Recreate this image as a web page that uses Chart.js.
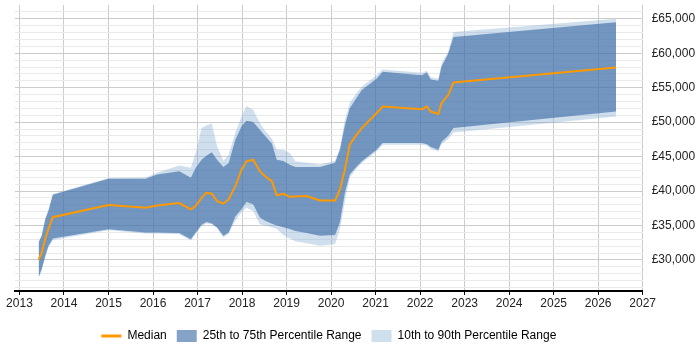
<!DOCTYPE html>
<html>
<head>
<meta charset="utf-8">
<script src="https://cdn.jsdelivr.net/npm/chart.js@4"></script>
<style>
  body { margin: 0; background: #fff; }
</style>
</head>
<body>
<canvas id="salary_chart" width="700" height="350"></canvas>
<script>
// years (decimal) and percentile values
var years = [2013.43, 2013.5, 2013.58, 2013.65, 2013.75, 2015.0, 2015.84, 2016.09, 2016.59, 2016.85,
  2016.96, 2017.09, 2017.2, 2017.32, 2017.44, 2017.58, 2017.7, 2017.85, 2017.99, 2018.1,
  2018.25, 2018.4, 2018.52, 2018.67, 2018.78, 2018.93, 2019.07, 2019.2, 2019.45, 2019.75,
  2020.09, 2020.2, 2020.31, 2020.42, 2020.54, 2020.69, 2021.02, 2021.16, 2022.04, 2022.15,
  2022.24, 2022.41, 2022.48, 2022.63, 2022.75, 2026.4]
var median = [30000, 31000, 33100, 34450, 36200, 37960, 37580, 37900, 38250, 37340,
  37820, 39000, 39750, 39600, 38540, 38160, 38780, 40700, 43110, 44310,
  44550, 42870, 42150, 41420, 39360, 39600, 39170, 39200, 39260, 38640,
  38640, 40220, 43110, 46720, 47900, 49130, 51290, 52250, 51870, 52250,
  51530, 51190, 52730, 53930, 55760, 57930]
var p25 = [27480, 28680, 30600, 32000, 33100, 34450, 33980, 33980, 33900, 33010,
  33980, 35100, 35510, 35300, 34700, 33490, 33980, 36300, 37400, 38390,
  38060, 36140, 35700, 35250, 35000, 34750, 34500, 34200, 33900, 33490,
  33600, 35500, 39750, 42400, 43300, 44310, 46000, 46960, 46960, 46800,
  46380, 46000, 47100, 48020, 49130, 51530]
var p75 = [32530, 33480, 35900, 37100, 39450, 41770, 41770, 42400, 42880, 41910,
  43360, 44550, 45100, 45610, 44550, 43500, 44070, 47440, 49400, 50200,
  50000, 48900, 48000, 46900, 44550, 44350, 43800, 43500, 43500, 43500,
  44100, 46000, 49500, 52000, 53210, 54650, 56300, 57300, 56820, 57200,
  56200, 56000, 58020, 59940, 62350, 64510]
var p10 = [27300, 28500, 30400, 31800, 32900, 34300, 33850, 33850, 33730, 32800,
  33800, 34900, 35270, 35200, 34600, 33250, 33800, 35700, 36900, 37580,
  37090, 35180, 35000, 34750, 34500, 33600, 33100, 32700, 32400, 32050,
  32300, 34500, 38500, 41910, 43000, 44070, 45750, 46720, 46720, 46600,
  46140, 45750, 46800, 47500, 48490, 50810]
var p90 = [32700, 33600, 36000, 37200, 39550, 41900, 41950, 42640, 43690, 43360,
  45520, 49130, 49500, 49850, 46470, 44410, 45280, 48500, 50800, 52340,
  51800, 49900, 48700, 47600, 46000, 46000, 45500, 44310, 44100, 43830,
  44400, 46300, 50300, 52800, 53930, 55130, 56800, 57640, 57150, 57450,
  56500, 56300, 58500, 60180, 63070, 65000]

var xTicks = [2013, 2014, 2015, 2016, 2017, 2018, 2019, 2020, 2021, 2022, 2023, 2024, 2025, 2026, 2027]
var yTicks = []
for (var v = 26000; v <= 66000; v += 1000) yTicks.push(v)

var orange = '#ff9900'
var darkBand = 'rgba(51,102,160,0.6)'
var lightBand = 'rgba(118,164,206,0.35)'
var font = {family: 'Arial, "Liberation Sans", sans-serif', size: 12}

function pts(values) {
  return values.map((y, i) => ({x: years[i], y: y}))
}

function band(values, fill, color) {
  return {
    data: pts(values),
    fill: fill,
    backgroundColor: color,
    borderWidth: 0,
    pointRadius: 0,
    tension: 0
  }
}

// no extra room for edge labels, and centre the legend under the plot
function noEdgePadding(scale) {
  scale.paddingLeft = 0
  scale.paddingRight = 0
  scale.paddingTop = 0
  scale.paddingBottom = 0
}

var centreLegend = {
  id: 'centreLegend',
  afterLayout: chart => {
    var lg = chart.legend
    lg.left = chart.chartArea.left
    lg.right = chart.chartArea.right
    lg.top += 2
    lg.bottom += 2
  }
}

var config = {
  type: 'line',
  data: {
    datasets: [
      {
        label: 'Median',
        data: pts(median),
        borderColor: orange,
        borderWidth: 2,
        pointRadius: 0,
        fill: false,
        tension: 0
      },
      band(p75, '+1', darkBand),
      band(p25, false, darkBand),
      band(p90, '+1', lightBand),
      band(p10, false, lightBand)
    ]
  },
  options: {
    responsive: false,
    animation: false,
    layout: {padding: {left: 15, right: 5, top: 5, bottom: 0}},
    scales: {
      x: {
        type: 'linear',
        min: 2012.9,
        max: 2027,
        afterBuildTicks: axis => { axis.ticks = xTicks.map(v => ({value: v})) },
        afterFit: scale => { noEdgePadding(scale); scale.height += 4.7 },
        grid: {color: '#cccccc', tickLength: 4, tickColor: '#000'},
        border: {color: '#000', width: 2},
        ticks: {font: font, color: '#222', padding: 2, maxRotation: 0, callback: v => String(v)}
      },
      y: {
        position: 'right',
        min: 25500,
        max: 67000,
        afterBuildTicks: axis => { axis.ticks = yTicks.map(v => ({value: v})) },
        afterFit: scale => { noEdgePadding(scale); scale.width = 52.3 },
        grid: {
          drawTicks: false,
          color: ctx => (ctx.tick && ctx.tick.value % 5000 === 0) ? '#cccccc' : '#eaeaea'
        },
        border: {display: false},
        ticks: {
          font: font,
          color: '#222',
          padding: 9,
          autoSkip: false,
          callback: v => (v % 5000 === 0 && v >= 30000) ? '£' + v.toLocaleString('en-GB') : ''
        }
      }
    },
    plugins: {
      tooltip: {enabled: false},
      legend: {
        position: 'bottom',
        onClick: null,
        labels: {
          font: font,
          color: '#222',
          usePointStyle: true,
          pointStyleWidth: 20,
          boxHeight: 12,
          padding: 10,
          generateLabels: () => [
            {text: 'Median', fillStyle: orange, strokeStyle: orange, lineWidth: 3, pointStyle: 'line', datasetIndex: 0},
            {text: '25th to 75th Percentile Range', fillStyle: darkBand, strokeStyle: darkBand, lineWidth: 0, pointStyle: 'rect', datasetIndex: 1},
            {text: '10th to 90th Percentile Range', fillStyle: lightBand, strokeStyle: lightBand, lineWidth: 0, pointStyle: 'rect', datasetIndex: 3}
          ]
        }
      }
    }
  },
  plugins: [centreLegend]
}

var myChart = new Chart(document.getElementById('salary_chart'), config)
</script>
</body>
</html>
